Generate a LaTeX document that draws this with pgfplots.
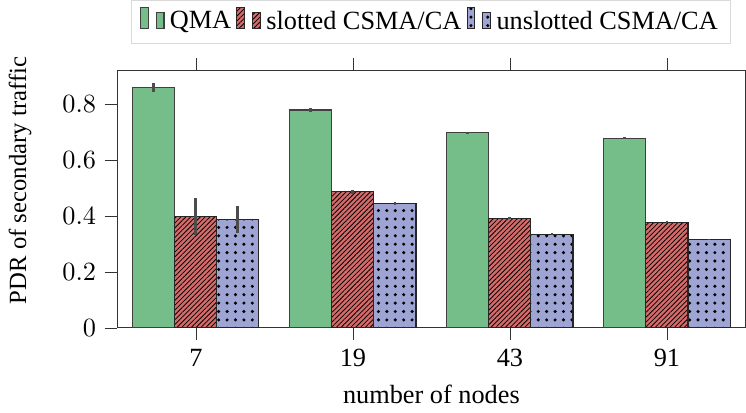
\documentclass[border=0pt]{standalone}
\usepackage{fontspec}
\setmainfont{Liberation Serif}
\usepackage{pgfplots}
\pgfplotsset{compat=1.18}
\usetikzlibrary{patterns.meta}

\definecolor{qmagreen}{RGB}{117,190,137}
\definecolor{slotred}{RGB}{212,106,106}
\definecolor{unslotblue}{RGB}{158,165,212}

\begin{document}
\begin{tikzpicture}
\begin{axis}[
  scale only axis,
  width=239pt,
  height=98pt,
  ybar=0pt,
  bar width=16pt,
  xmin=-0.5, xmax=3.5,
  ymin=0, ymax=0.92,
  xtick={0,1,2,3},
  xticklabels={7,19,43,91},
  ytick={0,0.2,0.4,0.6,0.8},
  yticklabel style={/pgf/number format/fixed},
  xtick pos=both,
  ytick pos=left,
  tick align=outside,
  major tick length=4.6pt,
  xlabel={number of nodes},
  ylabel={PDR of secondary traffic},
  ylabel shift=4.9pt,
  ylabel style={at={(ticklabel cs:0.572)}, font=\fontsize{9.4}{11}\selectfont},
  axis line style={black!80},
  major tick style={black!80},
  legend columns=-1,
  legend style={at={(0.5,1)}, anchor=south, yshift=9.9pt,
    draw=black!15},
  legend image code/.code={%
    \draw[#1] (0pt,-0.25em) rectangle (3pt,0.55em)
              (6pt,-0.25em) rectangle (9pt,0.35em);},
  error bars/y dir=both,
  error bars/y explicit,
  error bars/error mark=none,
  error bars/error bar style={line width=1.1pt, color=black!70},
]
\addplot[fill=qmagreen, draw=black!75]
  coordinates {
    (0,0.858) +- (0,0.015)
    (1,0.778) +- (0,0.008)
    (2,0.697) +- (0,0.004)
    (3,0.677) +- (0,0.003)
  };
\addplot[fill=slotred, draw=black!85,
  postaction={pattern={Lines[angle=45,distance=1.3pt,line width=0.3pt]}}]
  coordinates {
    (0,0.398) +- (0,0.065)
    (1,0.486) +- (0,0.008)
    (2,0.392) +- (0,0.005)
    (3,0.377) +- (0,0.003)
  };
\addplot[fill=unslotblue, draw=black!85,
  postaction={pattern={Dots[radius=0.65pt,distance=3.2pt]}}]
  coordinates {
    (0,0.386) +- (0,0.048)
    (1,0.445) +- (0,0.005)
    (2,0.334) +- (0,0.003)
    (3,0.316) +- (0,0.002)
  };
\legend{QMA,slotted CSMA/CA,unslotted CSMA/CA}
\end{axis}
\end{tikzpicture}
\end{document}
